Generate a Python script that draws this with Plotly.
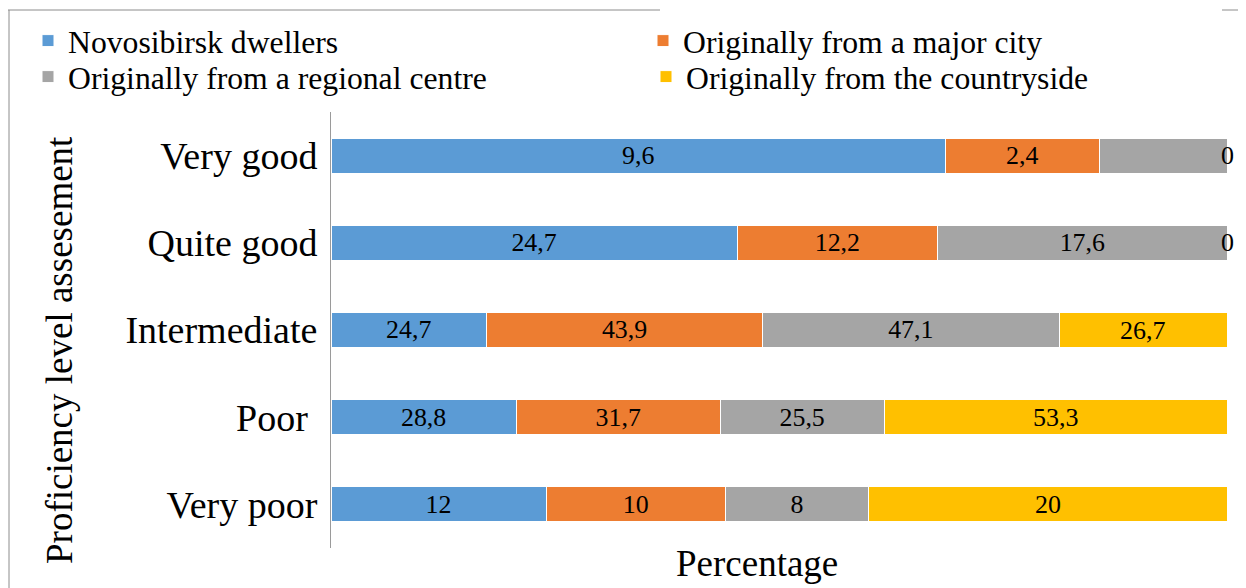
import plotly.graph_objects as go

levels = ['Very good', 'Quite good', 'Intermediate', 'Poor', 'Very poor']
level_labels = ['Very good', 'Quite good', 'Intermediate', 'Poor\u00a0', 'Very poor']
series = [
    'Novosibirsk dwellers',
    'Originally from a major city',
    'Originally from a regional centre',
    'Originally from the countryside',
]
novosibirsk = [9.6, 24.7, 24.7, 28.8, 12]
major_city = [2.4, 12.2, 43.9, 31.7, 10]
regional = [2, 17.6, 47.1, 25.5, 8]
countryside = [0, 0, 26.7, 53.3, 20]
colors = ['#5B9BD5', '#ED7D31', '#A5A5A5', '#FFC000']

# page is drawn with an 8px body margin
OFF = 8
W, H = 1246 - OFF, 588 - OFF
L, R, T, B = 331 - OFF, 19, 112 - OFF, 40
PW, PH = W - L - R, H - T - B


def px_x(p):
    return (p - OFF - L) / PW


def px_y(p):
    return (H - B - (p - OFF)) / PH


def fmt(v):
    return ('%g' % v).replace('.', ',')


SERIF = 'Liberation Serif'
label_font = dict(size=26, color='black', family=SERIF)


def serif_text(s):
    # bar text ignores textfont.family here, so force it inline
    return "<span style='font-family:\"Liberation Serif\"'>" + s + '</span>'


# legend entry positions (page px): text start x, row centre y
legend_pos = [(68, 41), (683, 41), (68, 77), (686, 77)]
legend_ids = ['legend', 'legend2', 'legend3', 'legend4']

fig = go.Figure()
all_vals = [novosibirsk, major_city, regional, countryside]
for k, (name, vals, col) in enumerate(zip(series, all_vals, colors)):
    last = k == len(series) - 1
    fig.add_trace(go.Bar(
        y=levels, x=vals, name=name, orientation='h',
        legend=legend_ids[k],
        marker=dict(color=col, line=dict(color='white', width=1)),
        text=[serif_text(fmt(v)) for v in vals],
        # the last segment is labelled with annotations below
        textposition='none' if last else 'inside',
        insidetextanchor='middle',
        textangle=0,
        textfont=dict(label_font),
        insidetextfont=dict(label_font),
        cliponaxis=False,
    ))

# countryside labels: centre of the last stacked segment (in percent of the row)
annots = []
for i, lvl in enumerate(levels):
    total = sum(v[i] for v in all_vals)
    before = novosibirsk[i] + major_city[i] + regional[i]
    mid = (before + countryside[i] / 2) / total * 100
    annots.append(dict(text=fmt(countryside[i]), x=mid, y=lvl, xref='x', yref='y',
                       showarrow=False, xanchor='center', font=dict(label_font)))

annots += [
    dict(text='Percentage', xref='paper', yref='paper', x=px_x(757), y=px_y(563),
         xanchor='center', yanchor='middle', showarrow=False, font=dict(size=37)),
    dict(text='Proficiency level assesement', xref='paper', yref='paper',
         x=px_x(59), y=px_y(350), xanchor='center', yanchor='middle',
         textangle=-90, showarrow=False, font=dict(size=37)),
]

legends = {}
for lid, (tx, ty) in zip(legend_ids, legend_pos):
    legends[lid] = dict(orientation='h', x=px_x(tx - 40), y=px_y(ty),
                        xanchor='left', yanchor='middle', font=dict(size=31.7),
                        itemclick=False, bgcolor='rgba(0,0,0,0)')

line = dict(color='#8c8c8c', width=1)
fig.update_layout(
    width=W, height=H,
    margin=dict(l=L, r=R, t=T, b=B, autoexpand=False),
    barmode='stack', barnorm='percent', bargap=0.6,
    plot_bgcolor='white', paper_bgcolor='white',
    font=dict(family=SERIF, color='black', size=37),
    showlegend=True,
    xaxis=dict(range=[0, 100], showticklabels=False, showgrid=False,
               zeroline=False, showline=False, ticks=''),
    yaxis=dict(autorange='reversed', showgrid=False, showline=True,
               linecolor='#9a9a9a', linewidth=1, ticks='',
               tickmode='array', tickvals=levels, ticktext=level_labels,
               tickfont=dict(size=38), ticklabelstandoff=5),
    annotations=annots,
    shapes=[
        dict(type='line', xref='paper', yref='paper', x0=px_x(7), x1=px_x(660),
             y0=px_y(10), y1=px_y(10), line=line),
        dict(type='line', xref='paper', yref='paper', x0=px_x(1222), x1=px_x(1246),
             y0=px_y(10), y1=px_y(10), line=line),
        dict(type='line', xref='paper', yref='paper', x0=px_x(9), x1=px_x(9),
             y0=px_y(10), y1=px_y(588), line=line),
    ],
)
fig.update_layout(**legends)

fig.write_html('out.html')
